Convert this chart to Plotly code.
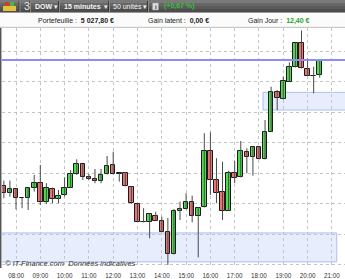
import pandas as pd
import plotly.graph_objects as go

# ---------------- data ----------------
times = pd.date_range("2013-01-02 07:30", periods=53, freq="15min")
opens = [12851.8, 12847.0, 12849.6, 12843.7, 12843.7, 12850.7, 12853.6, 12841.1, 12849.6, 12843.1,
         12845.7, 12850.7, 12859.5, 12866.0, 12857.5, 12856.2, 12855.3, 12859.5, 12865.4, 12859.5,
         12860.1, 12851.3, 12840.0, 12828.4, 12828.4, 12832.3, 12829.0, 12821.8, 12807.2, 12835.4,
         12836.7, 12841.1, 12832.3, 12837.8, 12874.9, 12855.7, 12847.7, 12835.6, 12860.3, 12857.5,
         12873.9, 12870.6, 12877.2, 12869.5, 12887.4, 12913.2, 12908.8, 12920.3, 12929.6, 12945.8,
         12928.5, 12924.1, 12924.5]
highs = [12855.3, 12855.3, 12850.3, 12843.9, 12850.8, 12859.0, 12865.6, 12853.6, 12850.7, 12849.2,
         12857.5, 12862.3, 12869.3, 12866.2, 12859.7, 12862.9, 12862.9, 12871.5, 12874.3, 12860.3,
         12861.0, 12851.8, 12840.5, 12837.2, 12833.9, 12834.9, 12831.7, 12830.8, 12836.7, 12841.5,
         12847.0, 12845.4, 12838.0, 12886.4, 12887.0, 12870.0, 12867.7, 12861.8, 12868.2, 12881.3,
         12876.5, 12877.7, 12878.0, 12895.1, 12916.9, 12914.7, 12923.5, 12932.9, 12945.7, 12953.8,
         12935.4, 12930.0, 12934.4]
lows = [12843.7, 12844.8, 12836.5, 12837.2, 12836.1, 12848.1, 12839.3, 12840.0, 12840.5, 12840.5,
        12844.8, 12850.5, 12859.0, 12855.7, 12855.7, 12853.6, 12853.6, 12859.3, 12859.3, 12854.6,
        12851.5, 12840.0, 12828.2, 12827.9, 12817.5, 12828.9, 12821.6, 12800.0, 12806.9, 12829.5,
        12836.4, 12828.0, 12805.0, 12837.7, 12845.9, 12840.5, 12829.5, 12835.4, 12853.6, 12857.4,
        12860.1, 12858.6, 12869.2, 12869.2, 12887.2, 12901.6, 12908.5, 12920.0, 12929.5, 12928.8,
        12923.9, 12912.6, 12922.8]
closes = [12847.0, 12849.6, 12843.7, 12843.6, 12850.3, 12853.8, 12841.1, 12850.7, 12843.1, 12845.4,
          12850.7, 12859.5, 12866.0, 12857.5, 12856.2, 12855.3, 12858.8, 12864.9, 12859.5, 12860.1,
          12851.8, 12840.5, 12828.4, 12828.2, 12833.2, 12829.0, 12821.8, 12807.2, 12835.4, 12836.7,
          12841.1, 12832.3, 12837.6, 12874.8, 12855.7, 12847.0, 12835.6, 12860.1, 12856.8, 12874.8,
          12871.0, 12877.6, 12869.5, 12887.4, 12913.2, 12909.3, 12920.8, 12929.6, 12945.4, 12929.0,
          12924.1, 12924.2, 12934.3]

tick_labels = ["08:00", "09:00", "10:00", "11:00", "12:00", "13:00", "14:00",
               "15:00", "16:00", "17:00", "18:00", "19:00", "20:00", "21:00"]
tick_times = pd.to_datetime(["2013-01-02 " + t for t in tick_labels])

ref_level = 12934.4                      # blue horizontal line
zone_top = (pd.Timestamp("2013-01-02 18:10"), pd.Timestamp("2013-01-02 21:45"), 12901.6, 12913.2)
zone_bottom = (pd.Timestamp("2013-01-02 07:20"), pd.Timestamp("2013-01-02 21:12"), 12802.0, 12821.0)

# ---------------- figure ----------------
W, H = 345, 279
ML, MR, MT, MB = 2, 0, 28, 11


def PX(x):
    return (x - ML) / (W - ML - MR)


def PY(y):
    return (H - MB - y) / (H - MT - MB)


UP, DOWN = "#4fdc4f", "#ec7474"
colors = [UP if c >= o else DOWN for o, c in zip(opens, closes)]

wx, wy = [], []
for t, h, l in zip(times, highs, lows):
    wx += [t, t, None]
    wy += [l, h, None]

fig = go.Figure()
fig.add_trace(go.Scatter(x=wx, y=wy, mode="lines", line=dict(color="#4a4a4a", width=1),
                         hoverinfo="skip", showlegend=False))
fig.add_trace(go.Bar(x=times, base=[min(o, c) for o, c in zip(opens, closes)],
                     y=[abs(c - o) for o, c in zip(opens, closes)],
                     width=680000, marker=dict(color=colors, line=dict(color="#1a1a1a", width=1)),
                     hoverinfo="skip", showlegend=False))

shapes = []
# zones
for (x0, x1, y0, y1) in (zone_top, zone_bottom):
    shapes.append(dict(type="rect", xref="x", yref="y", x0=x0, x1=x1, y0=y0, y1=y1,
                       fillcolor="#e7edfc", line=dict(color="#a9c1f2", width=1), layer="below"))
# level line
shapes.append(dict(type="line", xref="paper", yref="y", x0=0, x1=1, y0=ref_level, y1=ref_level,
                   line=dict(color="#8c8cf6", width=2)))
# left frame border
shapes.append(dict(type="line", xref="paper", yref="paper", x0=PX(0.7), x1=PX(0.7), y0=PY(27.5), y1=PY(268),
                   line=dict(color="#555555", width=1.5)))
# header: toolbar gradient strips
for y0, y1, c in ((0, 3, "#7a7a7a"), (3, 6, "#676767"), (6, 9, "#5a5a5a"), (9, 12.7, "#4d4d4d")):
    shapes.append(dict(type="rect", xref="paper", yref="paper", x0=PX(0), x1=PX(345), y0=PY(y1), y1=PY(y0),
                       fillcolor=c, line=dict(width=0)))
# toolbar separators
for sx in (19, 29.5, 58.5, 108.5, 147.5):
    shapes.append(dict(type="line", xref="paper", yref="paper", x0=PX(sx), x1=PX(sx), y0=PY(12), y1=PY(1),
                       line=dict(color="#3a3a3a", width=1)))
    shapes.append(dict(type="line", xref="paper", yref="paper", x0=PX(sx + 1), x1=PX(sx + 1), y0=PY(12), y1=PY(1),
                       line=dict(color="#8a8a8a", width=1)))
# icon
for x0, x1, y0, y1, c in ((3, 16, 6, 11, "#e2c23a"), (5, 9, 2, 6, "#d23a2a"), (10, 14, 2, 6, "#43b843")):
    shapes.append(dict(type="rect", xref="paper", yref="paper", x0=PX(x0), x1=PX(x1), y0=PY(y1), y1=PY(y0),
                       fillcolor=c, line=dict(width=0)))
# info icon
shapes.append(dict(type="rect", xref="paper", yref="paper", x0=PX(152.5), x1=PX(158.5), y0=PY(10), y1=PY(3),
                   fillcolor="#dcdcdc", line=dict(color="#999999", width=0.5)))
# info row
shapes.append(dict(type="rect", xref="paper", yref="paper", x0=PX(0), x1=PX(345), y0=PY(27), y1=PY(12.7),
                   fillcolor="#fbfbfb", line=dict(width=0)))
shapes.append(dict(type="line", xref="paper", yref="paper", x0=PX(0), x1=PX(345), y0=PY(27.3), y1=PY(27.3),
                   line=dict(color="#bdbdbd", width=1)))

FONT = "Liberation Sans, Arial, sans-serif"
ann = []


def txt(text, x, y, size=7, color="#222222", anchor="left"):
    ann.append(dict(text=text, xref="paper", yref="paper", x=PX(x), y=PY(y), xanchor=anchor, yanchor="middle",
                    showarrow=False, font=dict(family=FONT, size=size, color=color)))


txt("3", 22, 6.5, size=11, color="#e6e6e6")
txt("<b>DOW</b>", 32.5, 6.5, color="#f4f4f4")
txt("▾", 51.5, 6.5, size=7, color="#f4f4f4")
txt("<b>15 minutes</b>", 61.5, 6.5, color="#f4f4f4")
txt("▾", 101.5, 6.5, size=7, color="#f4f4f4")
txt("50 unités", 110.5, 6.5, color="#f4f4f4")
txt("▾", 140.5, 6.5, size=7, color="#f4f4f4")
txt("<b>i</b>", 155.5, 6.6, size=6, color="#333333", anchor="center")
txt("<b>(+0,67 %)</b>", 162, 6.5, color="#34c034")
txt("Portefeuille :  <b>5 027,80 €</b>", 75.5, 20.5, anchor="center")
txt("Gain latent :  <b>0,00 €</b>", 178.5, 20.5, anchor="center")
txt("Gain Jour :  <b><span style='color:#1fa51f'>12,40 €</span></b>", 278.5, 20.5, anchor="center")
ann.append(dict(text="<i>© IT-Finance.com  Données indicatives</i>", xref="paper", yref="paper",
                x=PX(2.5), y=PY(263.5), xanchor="left", yanchor="middle", showarrow=False,
                font=dict(family=FONT, size=7.5, color="#333333")))

t_start = pd.Timestamp("2013-01-02 07:25:25")
t_end = pd.Timestamp("2013-01-02 21:32:25")

fig.update_layout(
    width=W, height=H, margin=dict(l=ML, r=MR, t=MT, b=MB),
    paper_bgcolor="white", plot_bgcolor="white",
    shapes=shapes, annotations=ann, showlegend=False, bargap=0,
    font=dict(family=FONT),
    xaxis=dict(type="date", range=[t_start, t_end], tickmode="array", tickvals=tick_times,
               ticktext=tick_labels, showgrid=True, gridcolor="#c4c4c4", griddash="3px,3px",
               gridwidth=1, ticks="", tickfont=dict(size=6.3, color="#333333"), ticklabelstandoff=3,
               zeroline=False, showline=False, fixedrange=True),
    yaxis=dict(range=[12798.0, 12955.4], dtick=20, tick0=12800, showgrid=True, gridcolor="#c4c4c4",
               griddash="3px,3px", gridwidth=1, showticklabels=False, zeroline=False, ticks="",
               fixedrange=True),
)

fig.write_html("out.html")
